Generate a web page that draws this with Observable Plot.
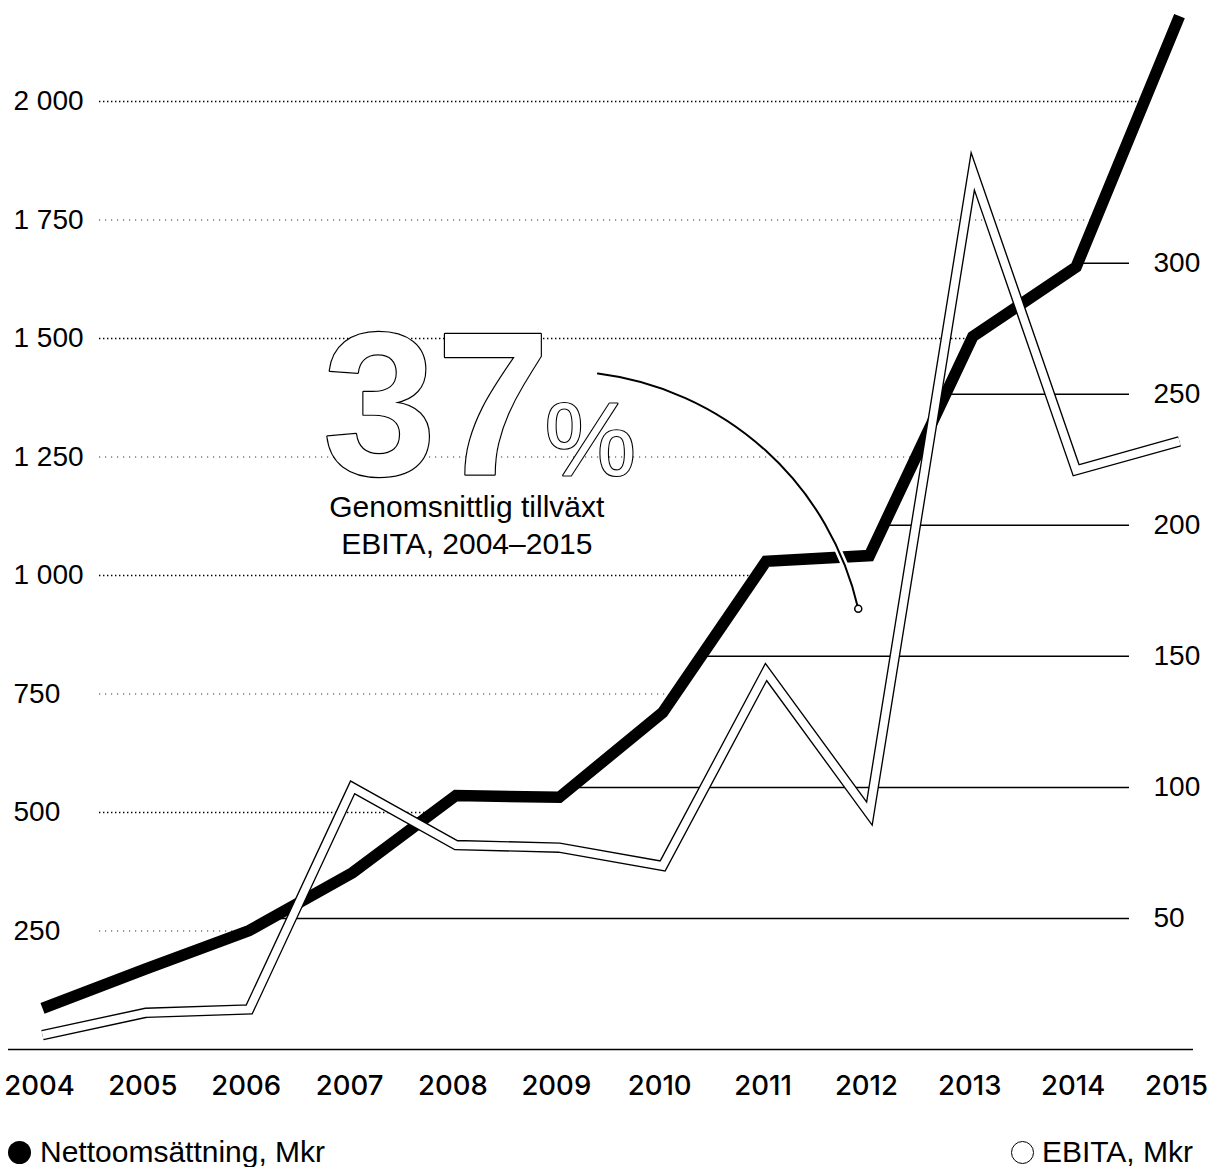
<!DOCTYPE html>
<html><head><meta charset="utf-8">
<script src="https://cdn.jsdelivr.net/npm/d3@7"></script>
<script src="https://cdn.jsdelivr.net/npm/@observablehq/plot@0.6"></script>
<style>
body{margin:0;background:#fff;font-family:"Liberation Sans",Arial,sans-serif;color:#000}
#chart svg{display:block;overflow:visible}
.legend{display:flex;justify-content:space-between;align-items:center;width:1215px;box-sizing:border-box;padding:12px 22px 0 8px;font-size:30px;line-height:30px}
.item{display:flex;align-items:center}
.dot{display:inline-block;width:23px;height:23px;border-radius:50%;background:#000;margin-right:9px}
.ring{display:inline-block;width:21px;height:21px;border-radius:50%;border:1.5px solid #000;margin-right:8px}
</style></head><body>
<div id="chart"></div>
<div class="legend" id="legend"></div>
<script>
// ---- data ----
const years = [2004, 2005, 2006, 2007, 2008, 2009, 2010, 2011, 2012, 2013, 2014, 2015];
const netSales = [87, 170, 251, 373, 536, 532, 711, 1030, 1042, 1504, 1651, 2180];   // Nettoomsättning, Mkr (left axis)
const ebita = [5.5, 14, 15.3, 100, 78, 77, 70, 144, 90, 335, 221, 232];             // EBITA, Mkr (right axis)
const leftTicks = [250, 500, 750, 1000, 1250, 1500, 1750, 2000];
const rightTicks = [50, 100, 150, 200, 250, 300];
const seriesNames = ["Nettoomsättning, Mkr", "EBITA, Mkr"];
const headline = "37";
const headlineUnit = "%";
const captionLines = ["Genomsnittlig tillväxt", "EBITA, 2004–2015"];

// right axis units expressed in left axis units
const ebitaToNet = 5.53;

// annotation anchors (data coordinates)
const annHeadline = {x: 2007.81, y: 1211};
const annUnit = {x: 2009.30, y: 1211};
const annCaption = [{x: 2008.105, y: 1143, t: captionLines[0]}, {x: 2008.105, y: 1065, t: captionLines[1]}];
const annArc = {x1: 2009.374, y1: 1426, x2: 2011.892, y2: 930};

const netRows = years.map((year, i) => ({year, value: netSales[i]}));
const ebitaRows = years.map((year, i) => ({year, value: ebita[i] * ebitaToNet}));

function crossYear(v) {
  for (let i = 0; i < netSales.length - 1; i++) {
    const a = netSales[i], b = netSales[i + 1];
    if (a !== b && (a - v) * (b - v) <= 0) return years[i] + (v - a) / (b - a);
  }
  return years[years.length - 1];
}
const fmt = v => v >= 1000 ? `${Math.floor(v / 1000)} ${String(v % 1000).padStart(3, "0")}` : String(v);
const major = leftTicks.filter(v => v % 500 === 0);
const minor = leftTicks.filter(v => v % 500 !== 0);

const chart = Plot.plot({
  width: 1215,
  height: 1125,
  margin: 0,
  x: {type: "linear", domain: [years[0], years[years.length - 1]], range: [42, 1179], axis: null},
  y: {domain: [0, 2000], range: [1049, 101], axis: null},
  style: {fontFamily: '"Liberation Sans", Arial, sans-serif', background: "white", overflow: "visible", color: "black"},
  marks: [
    Plot.ruleY(major, {y: d => d, x1: () => years[0], x2: d => crossYear(d), insetLeft: 57, stroke: "#000", strokeWidth: 1.4, strokeDasharray: "1.4 2.6"}),
    Plot.ruleY(minor, {y: d => d, x1: () => years[0], x2: d => crossYear(d), insetLeft: 57, stroke: "#333", strokeWidth: 1.1, strokeDasharray: "1.2 4.8"}),
    Plot.ruleY(rightTicks, {y: d => d * ebitaToNet, x1: d => crossYear(d * ebitaToNet), x2: () => years[years.length - 1], insetRight: 50, stroke: "#000", strokeWidth: 1.5}),
    Plot.ruleY([0], {insetLeft: 8, insetRight: 22, stroke: "#000", strokeWidth: 1.6}),
    Plot.line(netRows, {x: "year", y: "value", stroke: "#000", strokeWidth: 11.5, strokeLinejoin: "miter", strokeMiterlimit: 10, strokeLinecap: "butt"}),
    Plot.line(ebitaRows, {x: "year", y: "value", stroke: "#000", strokeWidth: 10.5, strokeLinejoin: "miter", strokeMiterlimit: 10, strokeLinecap: "butt"}),
    Plot.line(ebitaRows, {x: "year", y: "value", stroke: "#fff", strokeWidth: 7.8, strokeLinejoin: "miter", strokeMiterlimit: 10, strokeLinecap: "butt"}),
    // annotation
    Plot.text([annHeadline], {x: "x", y: "y", text: () => headline, fontSize: 204, fontWeight: "bold", fill: "white", stroke: "black", strokeWidth: 2.4, lineAnchor: "bottom", textAnchor: "middle"}),
    Plot.text([annUnit], {x: "x", y: "y", text: () => headlineUnit, fontSize: 103, fill: "white", stroke: "black", strokeWidth: 2.2, lineAnchor: "bottom", textAnchor: "middle"}),
    Plot.text(annCaption, {x: "x", y: "y", text: "t", fontSize: 30, fill: "black"}),
    Plot.arrow([annArc], {x1: "x1", y1: "y1", x2: "x2", y2: "y2", bend: 35, headLength: 0, stroke: "white", strokeWidth: 7}),
    Plot.arrow([annArc], {x1: "x1", y1: "y1", x2: "x2", y2: "y2", bend: 35, headLength: 0, stroke: "black", strokeWidth: 2}),
    Plot.dot([annArc], {x: "x2", y: "y2", r: 3.5, fill: "white", stroke: "black", strokeWidth: 1.5}),
    // axis labels
    Plot.text(leftTicks, {y: d => d, text: fmt, frameAnchor: "left", textAnchor: "start", dx: 13, fontSize: 28, fill: "black"}),
    Plot.text(rightTicks, {y: d => d * ebitaToNet, text: d => String(d), frameAnchor: "right", textAnchor: "start", dx: -62, fontSize: 28, fill: "black"}),
    Plot.text(years, {x: d => d, text: d => String(d), frameAnchor: "bottom", dy: -31, dx: -3, fontSize: 27.5, fontFamily: "Inter, 'Liberation Sans', Arial, sans-serif", fontWeight: 500, fill: "black"})
  ]
});
document.getElementById("chart").appendChild(chart);

const legend = document.getElementById("legend");
legend.innerHTML = `<div class="item"><span class="dot"></span>${seriesNames[0]}</div><div class="item"><span class="ring"></span>${seriesNames[1]}</div>`;
</script>
</body></html>
